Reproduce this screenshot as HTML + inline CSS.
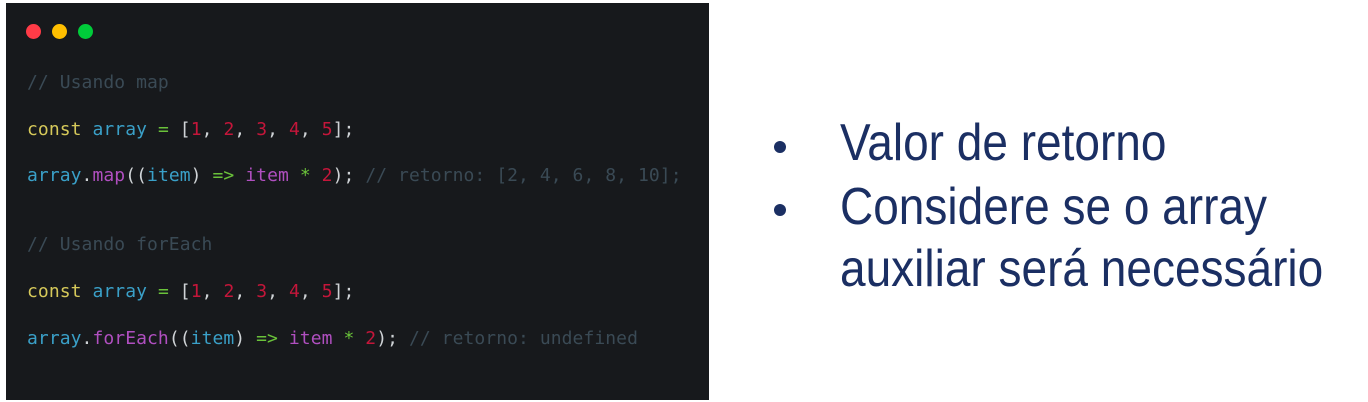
<!DOCTYPE html>
<html><head><meta charset="utf-8"><style>
body{margin:0;width:1368px;height:402px;background:#fff;position:relative;overflow:hidden}
.panel{position:absolute;left:6px;top:3px;width:703px;height:397px;background:#17191c}
.dot{position:absolute;top:21px;width:15px;height:15px;border-radius:50%}
.code{position:absolute;left:27px;font:18px "DejaVu Sans Mono","Liberation Mono",monospace;white-space:pre;color:#cfd3d6;line-height:22px;letter-spacing:0.07px}
.c{color:#3a4a55}.k{color:#d6c95a}.v{color:#3aa0c8}.n{color:#c4163a}.o{color:#6ac23a}.f{color:#b04fc0}
.t{position:absolute;left:840px;font:46px "Liberation Sans",sans-serif;color:#1b2f63;white-space:nowrap;line-height:50px;transform:scaleY(1.12);transform-origin:left center}
.b{position:absolute;left:774px;width:12px;height:12px;border-radius:50%;background:#1b2f63}
</style></head><body>
<div class="panel">
<div class="dot" style="left:20px;background:#ff3b47"></div>
<div class="dot" style="left:46px;background:#ffbf00"></div>
<div class="dot" style="left:72px;background:#00cc3a"></div>
</div>
<div class="code c" style="top:72px">// Usando map</div>
<div class="code" style="top:119px"><span class="k">const</span> <span class="v">array</span> <span class="o">=</span> [<span class="n">1</span>, <span class="n">2</span>, <span class="n">3</span>, <span class="n">4</span>, <span class="n">5</span>];</div>
<div class="code" style="top:165px"><span class="v">array</span>.<span class="f">map</span>((<span class="v">item</span>) <span class="o">=&gt;</span> <span class="f">item</span> <span class="o">*</span> <span class="n">2</span>); <span class="c">// retorno: [2, 4, 6, 8, 10];</span></div>
<div class="code c" style="top:234px">// Usando forEach</div>
<div class="code" style="top:281px"><span class="k">const</span> <span class="v">array</span> <span class="o">=</span> [<span class="n">1</span>, <span class="n">2</span>, <span class="n">3</span>, <span class="n">4</span>, <span class="n">5</span>];</div>
<div class="code" style="top:328px"><span class="v">array</span>.<span class="f">forEach</span>((<span class="v">item</span>) <span class="o">=&gt;</span> <span class="f">item</span> <span class="o">*</span> <span class="n">2</span>); <span class="c">// retorno: undefined</span></div>
<div class="b" style="top:141px"></div>
<div class="b" style="top:204px"></div>
<div class="t" style="top:117px">Valor de retorno</div>
<div class="t" style="top:181px">Considere se o array</div>
<div class="t" style="top:243px">auxiliar será necessário</div>
</body></html>
